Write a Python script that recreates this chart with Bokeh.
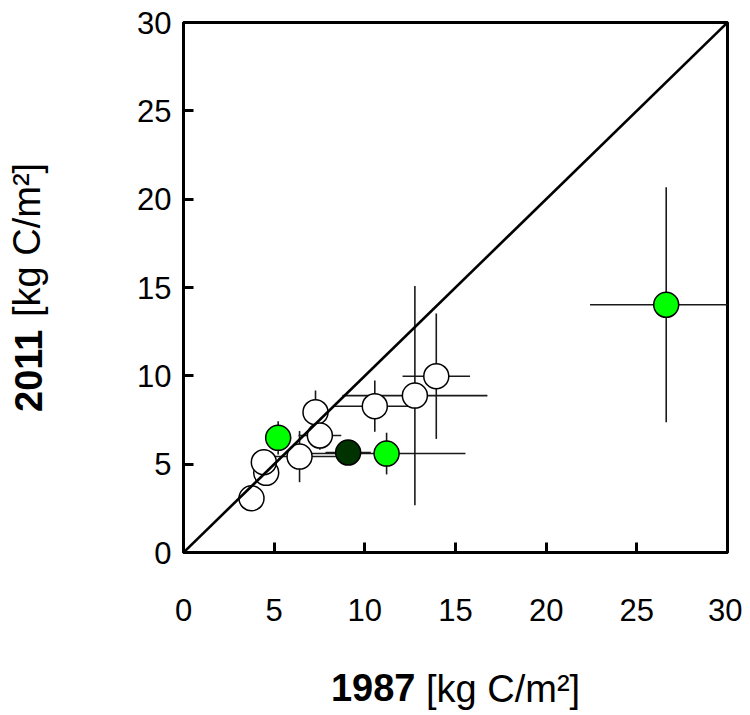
import numpy as np
from bokeh.plotting import figure
from bokeh.models import Range1d, FixedTicker, Slope, Label, ColumnDataSource
from bokeh.embed import file_html
from bokeh.resources import INLINE

# ---- data (kg C/m2) ----
ticks = [0, 5, 10, 15, 20, 25, 30]

open_x = [3.75, 4.56, 4.43, 7.28, 7.52, 6.40, 10.55, 12.76, 13.94]
open_y = [3.07, 4.51, 5.11, 7.94, 6.62, 5.43, 8.28, 8.88, 9.98]
open_xerr = [0.4, 0.5, 0.5, 0.5, 1.18, 2.2, 2.2, 4.0, 1.86]
open_yerr = [0.4, 0.5, 0.5, 1.23, 0.8, 1.45, 1.45, 6.2, 3.55]

lime_x = [5.22, 11.2, 26.62]
lime_y = [6.49, 5.60, 14.02]
lime_xerr = [0.72, 4.35, 4.2]
lime_yerr = [0.94, 1.18, 6.65]

dark_x = [9.08]
dark_y = [5.66]
dark_xerr = [1.25]
dark_yerr = [0.5]

FONT = "Liberation Sans"

p = figure(width=742, height=715, output_backend="svg", toolbar_location=None,
           x_range=Range1d(0, 30), y_range=Range1d(0, 30),
           min_border_left=183, min_border_right=15, min_border_top=22, min_border_bottom=163)
p.xgrid.visible = False
p.ygrid.visible = False
p.outline_line_color = "black"
p.outline_line_width = 3
p.background_fill_color = "white"
p.border_fill_color = "white"

for ax in (p.xaxis, p.yaxis):
    ax.ticker = FixedTicker(ticks=ticks)
    ax.axis_line_width = 3
    ax.axis_line_color = "black"
    ax.major_tick_in = 10
    ax.major_tick_out = 0
    ax.major_tick_line_width = 3
    ax.minor_tick_line_color = None
    ax.major_label_text_font = FONT
    ax.major_label_text_font_size = "31px"
    ax.major_label_text_color = "black"
p.xaxis.major_label_standoff = 46
p.yaxis.major_label_standoff = 12


def add_group(xs, ys, xe, ye, fill):
    xs = np.array(xs); ys = np.array(ys); xe = np.array(xe); ye = np.array(ye)
    src = ColumnDataSource(dict(x=xs, y=ys, xl=xs - xe, xr=xs + xe, yl=ys - ye, yh=ys + ye))
    p.segment(x0="xl", y0="y", x1="xr", y1="y", source=src, line_color="#1a1a1a", line_width=1.6)
    p.segment(x0="x", y0="yl", x1="x", y1="yh", source=src, line_color="#1a1a1a", line_width=1.6)
    return src, fill


groups = [
    add_group(open_x, open_y, open_xerr, open_yerr, "white"),
    add_group(lime_x, lime_y, lime_xerr, lime_yerr, "#00ff00"),
    add_group(dark_x, dark_y, dark_xerr, dark_yerr, "#003300"),
]
for src, fill in groups:
    p.scatter(x="x", y="y", source=src, size=25, marker="circle",
              fill_color=fill, line_color="black", line_width=1.5)

p.add_layout(Slope(gradient=1, y_intercept=0, line_color="black", line_width=2.6))

# axis titles (bold year + normal unit), placed in the side panels (not clipped)
lab = dict(text_font=FONT, text_font_size="38px", text_baseline="alphabetic",
           text_color="black", x_units="screen", y_units="screen")
p.add_layout(Label(x=232, y=-37, text="1987", text_font_style="bold", text_align="right", **lab), "below")
p.add_layout(Label(x=242.5, y=4, text="[kg C/m²]", text_align="left", **lab), "below")
p.add_layout(Label(x=-79, y=140.5, text="2011", text_font_style="bold", text_align="left",
                   angle=np.pi / 2, **lab), "left")
p.add_layout(Label(x=-39, y=235.5, text="[kg C/m²]", text_align="left",
                   angle=np.pi / 2, **lab), "left")

open("out.html", "w").write(file_html(p, INLINE))
